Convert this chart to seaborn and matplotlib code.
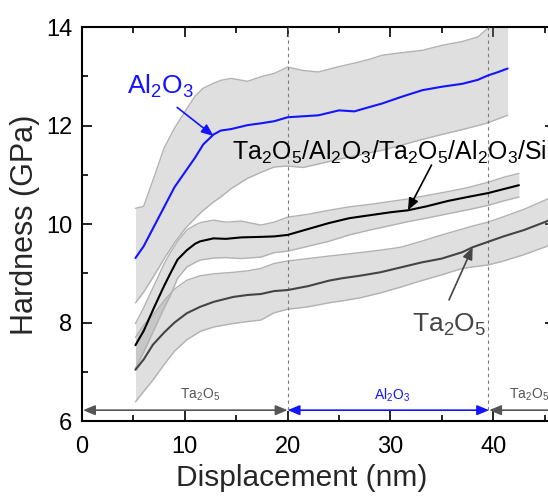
import matplotlib
matplotlib.use("Agg")
import matplotlib.pyplot as plt
import seaborn as sns
import pandas as pd

# ---------------- data ----------------
al_x = [5.2, 6.0, 7.0, 8.0, 9.0, 10.0, 11.0, 11.8, 12.8, 13.5, 14.5, 16.1, 17.5, 18.7, 20.0,
        21.5, 23.0, 25.0, 26.5, 28.0, 29.2, 31.0, 33.1, 35.0, 37.0, 38.5, 39.5, 40.5, 41.4]
al_mean = [9.31, 9.55, 9.95, 10.35, 10.75, 11.05, 11.35, 11.62, 11.82, 11.9, 11.93, 12.01, 12.05, 12.09, 12.17,
           12.19, 12.21, 12.31, 12.29, 12.38, 12.45, 12.58, 12.72, 12.79, 12.85, 12.93, 13.02, 13.09, 13.16]
al_upper = [10.32, 10.36, 10.95, 11.55, 11.95, 12.28, 12.6, 12.76, 12.86, 12.92, 12.96, 12.9, 13.0, 13.06, 13.19,
            13.12, 13.09, 13.2, 13.27, 13.35, 13.43, 13.48, 13.53, 13.63, 13.71, 13.8, 13.98, 14.08, 14.15]
al_lower = [8.4, 8.62, 8.95, 9.3, 9.62, 9.9, 10.12, 10.28, 10.45, 10.55, 10.72, 10.93, 11.06, 11.16, 11.18,
            11.15, 11.22, 11.32, 11.38, 11.45, 11.5, 11.6, 11.72, 11.82, 11.92, 12.0, 12.06, 12.14, 12.21]

ml_x = [5.2, 6.0, 7.0, 8.0, 8.6, 9.3, 10.2, 11.0, 11.5, 12.8, 14.0, 15.5, 17.4, 18.7, 20.0,
        22.0, 24.0, 26.0, 28.0, 30.0, 31.7, 33.5, 35.6, 37.5, 39.5, 41.0, 42.5]
ml_mean = [7.54, 7.83, 8.3, 8.75, 9.0, 9.28, 9.47, 9.6, 9.65, 9.71, 9.7, 9.73, 9.74, 9.75, 9.78,
           9.9, 10.02, 10.12, 10.18, 10.24, 10.28, 10.36, 10.47, 10.55, 10.63, 10.71, 10.79]
ml_upper = [7.98, 8.3, 8.75, 9.2, 9.42, 9.65, 9.88, 9.98, 10.03, 10.08, 10.04, 10.06, 9.98, 10.04, 10.14,
            10.2, 10.28, 10.35, 10.4, 10.46, 10.51, 10.58, 10.66, 10.74, 10.85, 10.95, 11.03]
ml_lower = [7.07, 7.4, 7.85, 8.3, 8.55, 8.9, 9.13, 9.22, 9.27, 9.31, 9.32, 9.3, 9.33, 9.42, 9.45,
            9.55, 9.65, 9.78, 9.88, 9.97, 10.05, 10.12, 10.21, 10.29, 10.38, 10.47, 10.55]

ta_x = [5.2, 6.0, 6.9, 8.0, 9.0, 10.2, 11.5, 12.8, 14.7, 16.1, 17.4, 18.7, 20.0, 22.0, 24.0,
        25.3, 27.0, 29.0, 31.0, 33.0, 35.0, 37.0, 38.0, 39.5, 41.0, 43.0, 45.5, 47.0]
ta_mean = [7.04, 7.25, 7.55, 7.8, 8.0, 8.19, 8.32, 8.42, 8.52, 8.56, 8.58, 8.64, 8.66, 8.74, 8.85,
           8.9, 8.95, 9.02, 9.12, 9.22, 9.3, 9.43, 9.53, 9.64, 9.75, 9.88, 10.08, 10.2]
ta_upper = [7.7, 7.95, 8.15, 8.45, 8.68, 8.86, 8.95, 8.99, 9.02, 9.05, 9.1, 9.2, 9.25, 9.3, 9.35,
            9.38, 9.42, 9.47, 9.53, 9.65, 9.78, 9.9, 9.96, 10.04, 10.15, 10.3, 10.53, 10.65]
ta_lower = [6.39, 6.6, 6.83, 7.15, 7.42, 7.65, 7.82, 7.91, 7.98, 8.02, 8.05, 8.2, 8.27, 8.32, 8.4,
            8.44, 8.5, 8.6, 8.72, 8.85, 8.97, 9.1, 9.13, 9.17, 9.25, 9.38, 9.57, 9.68]

layer_bounds = [0.0, 20.0, 39.6, 46.0]
layer_names = ["Ta$_2$O$_5$", "Al$_2$O$_3$", "Ta$_2$O$_5$"]

# ---------------- style ----------------
sns.set_style("ticks")
plt.rcParams["font.family"] = ["Liberation Sans", "DejaVu Sans"]
plt.rcParams["mathtext.fontset"] = "custom"
plt.rcParams["mathtext.rm"] = "Liberation Sans"
plt.rcParams["mathtext.it"] = "Liberation Sans:italic"
plt.rcParams["mathtext.default"] = "regular"

fig = plt.figure(figsize=(5.48, 4.96), dpi=100)
ax = fig.add_axes([0.1496, 0.1512, 0.863, 0.794])

BLUE = "#1414ff"
DGRAY = "#444444"
AGRAY = "#555555"
EDGE = "#b2b2b2"

series = [
    (al_x, al_mean, al_upper, al_lower, BLUE),
    (ml_x, ml_mean, ml_upper, ml_lower, "black"),
    (ta_x, ta_mean, ta_upper, ta_lower, DGRAY),
]

for xs, m, up, lo, col in series:
    ax.fill_between(xs, lo, up, color=(0.55, 0.55, 0.55), alpha=0.28, lw=0, zorder=1)
    df = pd.DataFrame({"x": xs, "up": up, "lo": lo, "m": m})
    sns.lineplot(data=df, x="x", y="up", color=EDGE, lw=1.0, ax=ax, zorder=2)
    sns.lineplot(data=df, x="x", y="lo", color=EDGE, lw=1.0, ax=ax, zorder=2)

for xs, m, up, lo, col in series:
    df = pd.DataFrame({"x": xs, "m": m})
    sns.lineplot(data=df, x="x", y="m", color=col, lw=1.5, ax=ax, zorder=4)

# layer boundaries
arrow_y = 6.22
for xb in layer_bounds[1:3]:
    xv = xb - 0.1 if xb > 30 else xb
    ax.plot([xv, xv], [arrow_y, 14], ls=(0, (3, 3)), color="#7a7a7a", lw=0.8, zorder=3)

arrow_cols = [AGRAY, BLUE, AGRAY]
label_x = [11.5, 30.2, 41.5]
label_ha = ["center", "center", "left"]
for i in range(3):
    x0, x1 = layer_bounds[i], layer_bounds[i + 1]
    if i == 0:
        x0 = 0.1
    if i == 2:
        x1 = 48
    ax.annotate("", xy=(x0, arrow_y), xytext=(x1, arrow_y),
                arrowprops=dict(arrowstyle="<|-|>,head_length=0.6,head_width=0.25",
                                mutation_scale=12, color=arrow_cols[i], lw=1.2,
                                shrinkA=0, shrinkB=0), zorder=5, annotation_clip=False)
    ax.text(label_x[i], 6.53, layer_names[i], color=arrow_cols[i], fontsize=10,
            ha=label_ha[i], va="center", zorder=5)

# annotations
ax.text(7.6, 12.8, "Al$_2$O$_3$", color=BLUE, fontsize=19, ha="center", va="center")
ax.annotate("", xy=(12.8, 11.79), xytext=(9.26, 12.37),
            arrowprops=dict(arrowstyle="-|>,head_length=0.6,head_width=0.25", mutation_scale=12,
                            color=BLUE, lw=1.2, shrinkA=0, shrinkB=0), zorder=6)

ax.text(14.55, 11.46, "Ta$_2$O$_5$/Al$_2$O$_3$/Ta$_2$O$_5$/Al$_2$O$_3$/Si", color="black",
        fontsize=17.9, ha="left", va="center", clip_on=False)
ax.annotate("", xy=(31.7, 10.28), xytext=(34.0, 11.2),
            arrowprops=dict(arrowstyle="-|>,head_length=0.6,head_width=0.25", mutation_scale=12,
                            color="black", lw=1.2, shrinkA=0, shrinkB=0), zorder=6)

ax.text(35.7, 7.95, "Ta$_2$O$_5$", color=DGRAY, fontsize=19, ha="center", va="center")
ax.annotate("", xy=(38.0, 9.53), xytext=(35.7, 8.46),
            arrowprops=dict(arrowstyle="-|>,head_length=0.6,head_width=0.25", mutation_scale=12,
                            color=DGRAY, lw=1.2, shrinkA=0, shrinkB=0), zorder=6)

# axes
ax.set_xlim(0, 46)
ax.set_ylim(6, 14)
ax.set_xticks([0, 10, 20, 30, 40])
ax.set_xticks([5, 15, 25, 35, 45], minor=True)
ax.set_yticks([6, 8, 10, 12, 14])
ax.set_yticks([7, 9, 11, 13], minor=True)
ax.tick_params(which="both", direction="in", top=True, right=True, width=1.2, colors="black")
ax.tick_params(which="major", length=7, labelsize=17)
ax.tick_params(axis="x", which="major", pad=11)
ax.tick_params(axis="y", which="major", pad=7)
ax.tick_params(which="minor", length=4)
for s in ax.spines.values():
    s.set_linewidth(1.5)
    s.set_color("black")
ax.set_xlabel("Displacement (nm)", fontsize=21.5)
ax.set_ylabel("Hardness (GPa)", fontsize=22)
ax.xaxis.set_label_coords(0.465, -0.108)
ax.yaxis.set_label_coords(-0.089, 0.497)

fig.savefig("out.png", dpi=100)
